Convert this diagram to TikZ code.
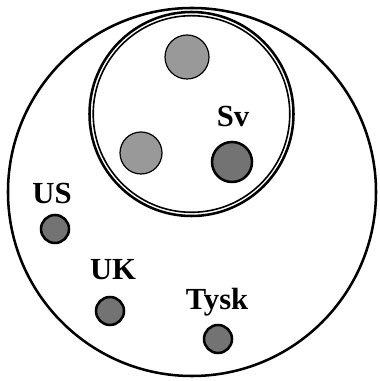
\documentclass[tikz,border=0pt]{standalone}
\usepackage{fontspec}
\setmainfont{Liberation Serif}
\usepackage{tikz}

\tikzset{
  lightdot/.style={circle, draw, line width=0.9pt, fill=black!40, inner sep=0pt},
  darkdot/.style={circle, draw, line width=1.9pt, fill=black!55, inner sep=0pt},
  lbl/.style={anchor=base, inner sep=0pt, font=\fontsize{23}{26}\selectfont\bfseries}
}

\begin{document}
\begin{tikzpicture}[x=0.75pt, y=0.75pt, line width=1.9pt]
\useasboundingbox (0,0) rectangle (379,381);
% --- outer set ---
\draw (192,189) circle[radius=184];
% --- inner set (double line) ---
\draw[line width=1.9pt] (191.5,267) circle[radius=102];
\draw[line width=1.2pt] (191.5,267) circle[radius=98.3];
% --- members inside inner set ---
\node[lightdot, minimum size=33pt] (top) at (187,324) {};
\node[lightdot, minimum size=31.5pt] (left) at (141,228) {};
\node[darkdot, minimum size=30pt] (sv) at (232,219) {};
\node[lbl] (svlabel) at (233,254) {Sv};
% --- members outside ---
\node[darkdot, minimum size=21pt] (us) at (55,152) {};
\node[lbl] (uslabel) at (52,177) {US};
\node[darkdot, minimum size=21pt] (uk) at (110,70) {};
\node[lbl] (uklabel) at (113,101) {UK};
\node[darkdot, minimum size=21pt] (tysk) at (218,42) {};
\node[lbl] (tysklabel) at (217,71) {Tysk};
\end{tikzpicture}
\end{document}
